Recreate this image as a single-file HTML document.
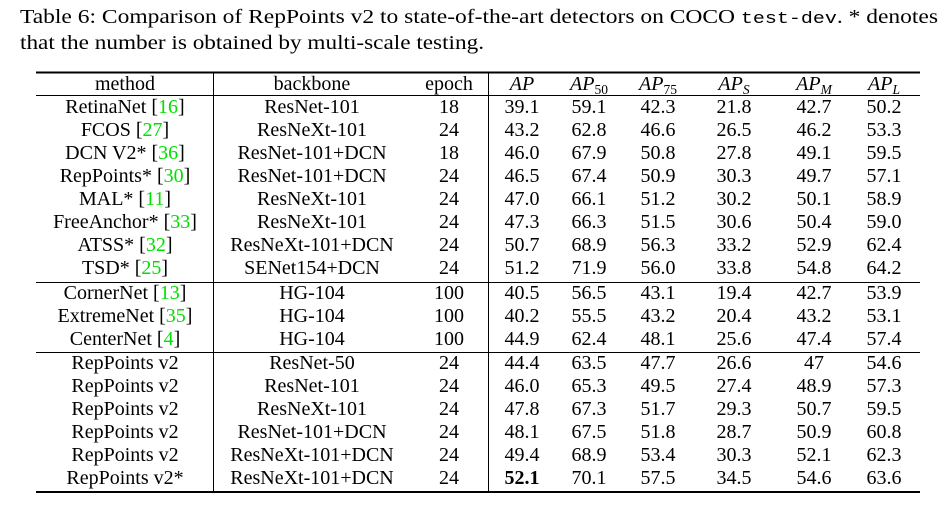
<!DOCTYPE html>
<html><head><meta charset="utf-8"><style>
html,body{margin:0;padding:0;background:#fff;width:950px;height:509px;overflow:hidden}
svg text{font-family:"Liberation Serif",serif;font-size:20px;fill:#000}
.g{fill:#00e000}
.m{font-family:"Liberation Mono",monospace;font-size:17px}
.i{font-style:italic}
.s{font-size:13.5px}
.u{font-style:normal}
</style></head><body>
<svg width="950" height="509" viewBox="0 0 950 509" xmlns="http://www.w3.org/2000/svg">
<text x="20" y="23" textLength="918" lengthAdjust="spacingAndGlyphs">Table 6: Comparison of RepPoints v2 to state-of-the-art detectors on COCO <tspan class="m">test-dev</tspan>. * denotes</text>
<text x="20" y="49" textLength="464" lengthAdjust="spacingAndGlyphs">that the number is obtained by multi-scale testing.</text>
<line x1="36" x2="920" y1="72.5" y2="72.5" stroke="#000" stroke-width="2"/>
<line x1="36" x2="920" y1="95.5" y2="95.5" stroke="#000" stroke-width="1"/>
<line x1="36" x2="920" y1="282.5" y2="282.5" stroke="#000" stroke-width="1"/>
<line x1="36" x2="920" y1="352.5" y2="352.5" stroke="#000" stroke-width="1"/>
<line x1="36" x2="920" y1="492" y2="492" stroke="#000" stroke-width="2"/>
<line x1="213.5" x2="213.5" y1="72" y2="492" stroke="#000" stroke-width="1"/>
<line x1="488.5" x2="488.5" y1="72" y2="492" stroke="#000" stroke-width="1"/>
<g text-anchor="middle">
<text x="125" y="90">method</text><text x="312" y="90">backbone</text><text x="449" y="90">epoch</text>
<text x="522" y="90" class="i">AP</text>
<text x="589" y="90" class="i">AP<tspan class="s u" dy="4">50</tspan></text>
<text x="658" y="90" class="i">AP<tspan class="s u" dy="4">75</tspan></text>
<text x="734" y="90" class="i">AP<tspan class="s" dy="4">S</tspan></text>
<text x="814" y="90" class="i">AP<tspan class="s" dy="4">M</tspan></text>
<text x="884" y="90" class="i">AP<tspan class="s" dy="4">L</tspan></text>
</g>
<g text-anchor="middle">
<text x="125" y="113">RetinaNet [<tspan class="g">16</tspan>]</text><text x="312" y="113">ResNet-101</text><text x="449" y="113">18</text><text x="522" y="113">39.1</text><text x="589" y="113">59.1</text><text x="658" y="113">42.3</text><text x="734" y="113">21.8</text><text x="814" y="113">42.7</text><text x="884" y="113">50.2</text>
<text x="125" y="136">FCOS [<tspan class="g">27</tspan>]</text><text x="312" y="136">ResNeXt-101</text><text x="449" y="136">24</text><text x="522" y="136">43.2</text><text x="589" y="136">62.8</text><text x="658" y="136">46.6</text><text x="734" y="136">26.5</text><text x="814" y="136">46.2</text><text x="884" y="136">53.3</text>
<text x="125" y="159">DCN V2* [<tspan class="g">36</tspan>]</text><text x="312" y="159">ResNet-101+DCN</text><text x="449" y="159">18</text><text x="522" y="159">46.0</text><text x="589" y="159">67.9</text><text x="658" y="159">50.8</text><text x="734" y="159">27.8</text><text x="814" y="159">49.1</text><text x="884" y="159">59.5</text>
<text x="125" y="182">RepPoints* [<tspan class="g">30</tspan>]</text><text x="312" y="182">ResNet-101+DCN</text><text x="449" y="182">24</text><text x="522" y="182">46.5</text><text x="589" y="182">67.4</text><text x="658" y="182">50.9</text><text x="734" y="182">30.3</text><text x="814" y="182">49.7</text><text x="884" y="182">57.1</text>
<text x="125" y="205">MAL* [<tspan class="g">11</tspan>]</text><text x="312" y="205">ResNeXt-101</text><text x="449" y="205">24</text><text x="522" y="205">47.0</text><text x="589" y="205">66.1</text><text x="658" y="205">51.2</text><text x="734" y="205">30.2</text><text x="814" y="205">50.1</text><text x="884" y="205">58.9</text>
<text x="125" y="228">FreeAnchor* [<tspan class="g">33</tspan>]</text><text x="312" y="228">ResNeXt-101</text><text x="449" y="228">24</text><text x="522" y="228">47.3</text><text x="589" y="228">66.3</text><text x="658" y="228">51.5</text><text x="734" y="228">30.6</text><text x="814" y="228">50.4</text><text x="884" y="228">59.0</text>
<text x="125" y="251">ATSS* [<tspan class="g">32</tspan>]</text><text x="312" y="251">ResNeXt-101+DCN</text><text x="449" y="251">24</text><text x="522" y="251">50.7</text><text x="589" y="251">68.9</text><text x="658" y="251">56.3</text><text x="734" y="251">33.2</text><text x="814" y="251">52.9</text><text x="884" y="251">62.4</text>
<text x="125" y="274">TSD* [<tspan class="g">25</tspan>]</text><text x="312" y="274">SENet154+DCN</text><text x="449" y="274">24</text><text x="522" y="274">51.2</text><text x="589" y="274">71.9</text><text x="658" y="274">56.0</text><text x="734" y="274">33.8</text><text x="814" y="274">54.8</text><text x="884" y="274">64.2</text>
<text x="125" y="299">CornerNet [<tspan class="g">13</tspan>]</text><text x="312" y="299">HG-104</text><text x="449" y="299">100</text><text x="522" y="299">40.5</text><text x="589" y="299">56.5</text><text x="658" y="299">43.1</text><text x="734" y="299">19.4</text><text x="814" y="299">42.7</text><text x="884" y="299">53.9</text>
<text x="125" y="322">ExtremeNet [<tspan class="g">35</tspan>]</text><text x="312" y="322">HG-104</text><text x="449" y="322">100</text><text x="522" y="322">40.2</text><text x="589" y="322">55.5</text><text x="658" y="322">43.2</text><text x="734" y="322">20.4</text><text x="814" y="322">43.2</text><text x="884" y="322">53.1</text>
<text x="125" y="345">CenterNet [<tspan class="g">4</tspan>]</text><text x="312" y="345">HG-104</text><text x="449" y="345">100</text><text x="522" y="345">44.9</text><text x="589" y="345">62.4</text><text x="658" y="345">48.1</text><text x="734" y="345">25.6</text><text x="814" y="345">47.4</text><text x="884" y="345">57.4</text>
<text x="125" y="369">RepPoints v2</text><text x="312" y="369">ResNet-50</text><text x="449" y="369">24</text><text x="522" y="369">44.4</text><text x="589" y="369">63.5</text><text x="658" y="369">47.7</text><text x="734" y="369">26.6</text><text x="814" y="369">47</text><text x="884" y="369">54.6</text>
<text x="125" y="392">RepPoints v2</text><text x="312" y="392">ResNet-101</text><text x="449" y="392">24</text><text x="522" y="392">46.0</text><text x="589" y="392">65.3</text><text x="658" y="392">49.5</text><text x="734" y="392">27.4</text><text x="814" y="392">48.9</text><text x="884" y="392">57.3</text>
<text x="125" y="415">RepPoints v2</text><text x="312" y="415">ResNeXt-101</text><text x="449" y="415">24</text><text x="522" y="415">47.8</text><text x="589" y="415">67.3</text><text x="658" y="415">51.7</text><text x="734" y="415">29.3</text><text x="814" y="415">50.7</text><text x="884" y="415">59.5</text>
<text x="125" y="438">RepPoints v2</text><text x="312" y="438">ResNet-101+DCN</text><text x="449" y="438">24</text><text x="522" y="438">48.1</text><text x="589" y="438">67.5</text><text x="658" y="438">51.8</text><text x="734" y="438">28.7</text><text x="814" y="438">50.9</text><text x="884" y="438">60.8</text>
<text x="125" y="461">RepPoints v2</text><text x="312" y="461">ResNeXt-101+DCN</text><text x="449" y="461">24</text><text x="522" y="461">49.4</text><text x="589" y="461">68.9</text><text x="658" y="461">53.4</text><text x="734" y="461">30.3</text><text x="814" y="461">52.1</text><text x="884" y="461">62.3</text>
<text x="125" y="484">RepPoints v2*</text><text x="312" y="484">ResNeXt-101+DCN</text><text x="449" y="484">24</text><text x="522" y="484" font-weight="bold">52.1</text><text x="589" y="484">70.1</text><text x="658" y="484">57.5</text><text x="734" y="484">34.5</text><text x="814" y="484">54.6</text><text x="884" y="484">63.6</text>
</g>
</svg>
</body></html>
